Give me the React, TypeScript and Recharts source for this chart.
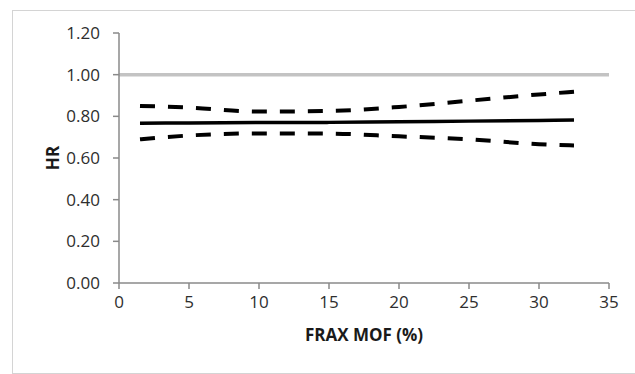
import React from 'react';
import { LineChart, Line, XAxis, YAxis, ReferenceLine } from 'recharts';

// FRAX MOF (%) values where the curves were sampled
const fraxMof = [1.5, 5, 10, 15, 20, 25, 30, 32.5];
// hazard ratio estimate and 95% CI bounds
const hrEstimate = [0.767, 0.768, 0.77, 0.771, 0.774, 0.777, 0.78, 0.782];
const hrUpper = [0.85, 0.842, 0.823, 0.826, 0.845, 0.875, 0.905, 0.918];
const hrLower = [0.69, 0.708, 0.718, 0.717, 0.704, 0.69, 0.666, 0.66];

const xTicks = [0, 5, 10, 15, 20, 25, 30, 35];
const yTicks = [0, 0.2, 0.4, 0.6, 0.8, 1.0, 1.2];

const data = fraxMof.map((x, i) => ({
  x,
  hr: hrEstimate[i],
  upper: hrUpper[i],
  lower: hrLower[i],
}));

const font = '"Open Sans", sans-serif';
const tickStyle = { fill: '#2e2e2e', fontSize: 17, fontFamily: font };

const App: React.FC = () => {
  return (
    <div style={{ position: 'absolute', left: 0, top: 0, width: 635, height: 374, background: '#fff', overflow: 'hidden' }}>
      <div
        style={{
          position: 'absolute',
          left: 12,
          top: 10,
          width: 660,
          height: 362,
          border: '1px solid #d4d4d4',
        }}
      />
      <div style={{ position: 'absolute', left: 0, top: 0 }}>
        <LineChart width={635} height={374} data={data} margin={{ top: 33, right: 26, bottom: 61, left: 19 }}>
          <XAxis
            dataKey="x"
            type="number"
            domain={[0, 35]}
            ticks={xTicks}
            axisLine={{ stroke: '#8a8a8a', strokeWidth: 1.5 }}
            tickLine={{ stroke: '#8a8a8a', strokeWidth: 1.5 }}
            tickSize={6}
            tickMargin={7}
            tick={tickStyle}
            height={30}
            label={{
              value: 'FRAX MOF (%)',
              position: 'bottom',
              offset: 16,
              style: { fill: '#1a1a1a', fontSize: 17, fontWeight: 700, fontFamily: font },
            }}
          />
          <YAxis
            type="number"
            domain={[0, 1.2]}
            ticks={yTicks}
            tickFormatter={(v: number) => v.toFixed(2)}
            axisLine={{ stroke: '#8a8a8a', strokeWidth: 1.5 }}
            tickLine={{ stroke: '#8a8a8a', strokeWidth: 1.5 }}
            tickSize={6}
            tickMargin={13}
            tick={tickStyle}
            width={100}
            label={{
              value: 'HR',
              content: () => (
                <text
                  x={52}
                  y={158}
                  transform="rotate(-90 52 158)"
                  textAnchor="middle"
                  dominantBaseline="central"
                  style={{ fill: '#1a1a1a', fontSize: 17, fontWeight: 700, fontFamily: font }}
                >
                  HR
                </text>
              ),
            }}
          />
          <ReferenceLine y={1} stroke="#c3c3c3" strokeWidth={3.5} />
          <Line
            dataKey="upper"
            stroke="#000"
            strokeWidth={4}
            strokeDasharray="15 13"
            dot={false}
            type="monotone"
            isAnimationActive={false}
          />
          <Line
            dataKey="lower"
            stroke="#000"
            strokeWidth={4}
            strokeDasharray="15 13"
            dot={false}
            type="monotone"
            isAnimationActive={false}
          />
          <Line
            dataKey="hr"
            stroke="#000"
            strokeWidth={3.5}
            dot={false}
            type="monotone"
            isAnimationActive={false}
          />
        </LineChart>
      </div>
    </div>
  );
};

export default App;
